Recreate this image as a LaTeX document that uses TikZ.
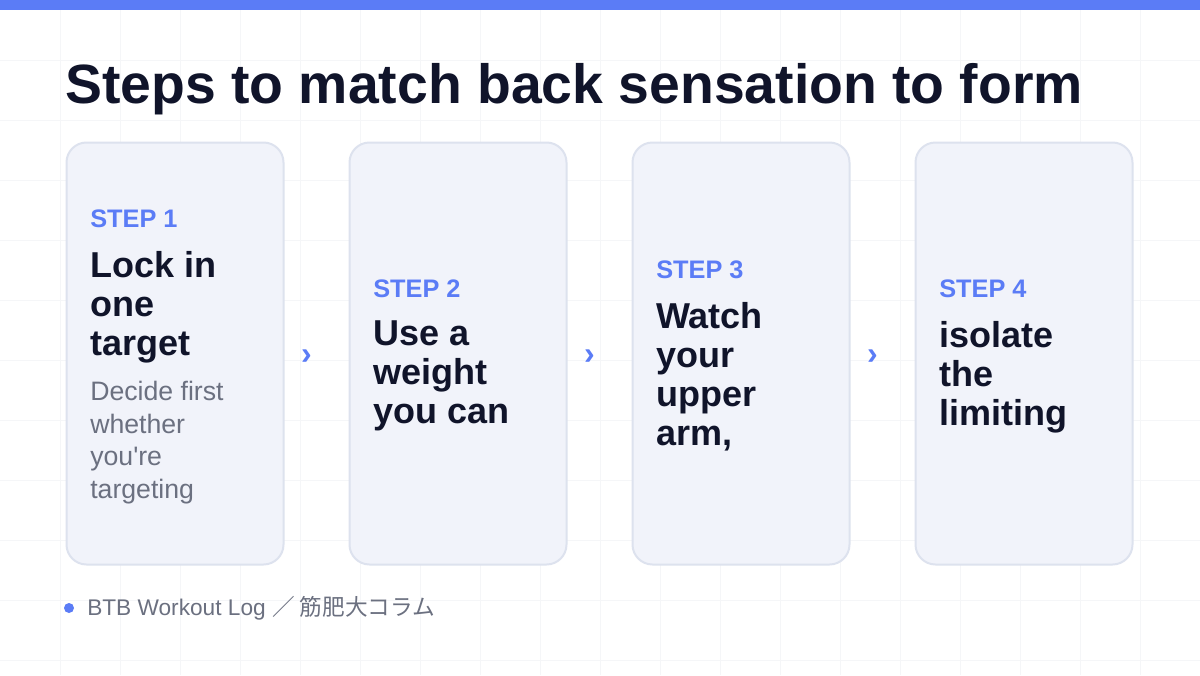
\documentclass[tikz,border=0pt]{standalone}
\usepackage{fontspec}
\setmainfont{Liberation Sans}
\newfontfamily\jpfont{Noto Sans CJK JP}
\usetikzlibrary{positioning,calc}
\definecolor{accent}{HTML}{5B7CF6}
\definecolor{ink}{HTML}{10142A}
\definecolor{muted}{HTML}{6B7080}
\definecolor{cardbg}{HTML}{F1F3FA}
\definecolor{cardline}{HTML}{DDE2EE}
\definecolor{gridln}{HTML}{F5F6F8}

\begin{document}
\begin{tikzpicture}[x=0.75pt,y=-0.75pt,
    card/.style={draw=cardline,line width=1.5pt,fill=cardbg,rounded corners=15pt,minimum width=162.75pt,minimum height=316.5pt,inner sep=0pt},
    steplbl/.style={text=accent,font=\fontsize{19}{22}\selectfont\bfseries,inner sep=0pt,anchor=base west},
    steptxt/.style={text=ink,font=\fontsize{27}{29.25}\selectfont\bfseries,align=left,inner sep=0pt},
    stepnote/.style={text=muted,font=\fontsize{20}{24.4}\selectfont,align=left,inner sep=0pt},
    chev/.style={text=accent,font=\fontsize{24}{24}\selectfont\bfseries,inner sep=0pt}]
    \useasboundingbox (0,0) rectangle (1200,675);
    \fill[white] (0,0) rectangle (1200,675);
    % faint grid behind everything
    \foreach \g in {60,120,...,1140} \draw[gridln,line width=0.75pt] (\g,0) -- (\g,675);
    \foreach \g in {60,120,...,660} \draw[gridln,line width=0.75pt] (0,\g) -- (1200,\g);
    \fill[accent] (0,0) rectangle (1200,10);
    \node[text=ink,font=\fontsize{41.5}{46}\selectfont\bfseries,inner sep=0pt,anchor=base west] (title) at (65,103) {Steps to match back sensation to form};
    \node[card,anchor=north west] (c1) at (65.5,141.5) {};
    \node[card,anchor=west,right=48pt of c1] (c2) {};
    \node[card,anchor=west,right=48pt of c2] (c3) {};
    \node[card,anchor=west,right=48pt of c3] (c4) {};
    \node[steplbl] (l1) at ($(c1.north west)+(24.5,86)$) {STEP 1};
    \node[steptxt,below=17pt of l1.south west,anchor=north west] (t1) {Lock in\\one\\target};
    \node[stepnote,below=13.5pt of t1.south west,anchor=north west] (n1) {Decide first\\whether\\you\textquotesingle re\\targeting};
    \node[steplbl] (l2) at ($(c2.north west)+(24.5,156)$) {STEP 2};
    \node[steptxt,below=17pt of l2.south west,anchor=north west] (t2) {Use a\\weight\\you can};
    \node[steplbl] (l3) at ($(c3.north west)+(24.5,137)$) {STEP 3};
    \node[steptxt,below=17pt of l3.south west,anchor=north west] (t3) {Watch\\your\\upper\\arm,};
    \node[steplbl] (l4) at ($(c4.north west)+(24.5,156)$) {STEP 4};
    \node[steptxt,below=17pt of l4.south west,anchor=north west] (t4) {isolate\\the\\limiting};
    \node[chev,xshift=-7.5pt,yshift=-2.5pt] (a1) at ($(c1.east)!0.5!(c2.west)$) {›};
    \node[chev,xshift=-7.5pt,yshift=-2.5pt] (a2) at ($(c2.east)!0.5!(c3.west)$) {›};
    \node[chev,xshift=-7.5pt,yshift=-2.5pt] (a3) at ($(c3.east)!0.5!(c4.west)$) {›};
    \node[circle,fill=accent,inner sep=0pt,minimum size=7.5pt] (dot) at (69,608) {};
    \node[text=muted,font=\fontsize{17}{20}\selectfont,inner sep=0pt,anchor=base west] (src) at (87,615) {BTB Workout Log {\jpfont ／ 筋肥大コラム}};
  \end{tikzpicture}
\end{document}
